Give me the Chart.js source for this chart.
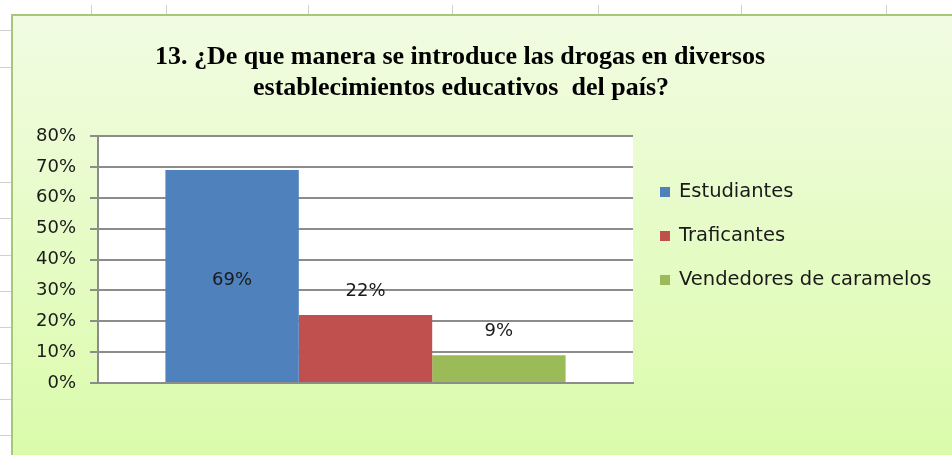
<!DOCTYPE html>
<html>
<head>
<meta charset="utf-8">
<script src="https://cdn.jsdelivr.net/npm/chart.js@4/dist/chart.umd.min.js"></script>
<style>
  html, body { margin: 0; padding: 0; background: #fff; }
  #wrap { position: relative; width: 952px; height: 455px; }
</style>
</head>
<body>
<div id="wrap"><canvas id="chart" width="952" height="455"></canvas></div>
<script>
// data
const categories = [""];
const seriesNames = ["Estudiantes", "Traficantes", "Vendedores de caramelos"];
const estudiantes = [69];
const traficantes = [22];
const vendedores = [9];
const yTicks = [0, 10, 20, 30, 40, 50, 60, 70, 80];
const titleLines = [
  "13. ¿De que manera se introduce las drogas en diversos",
  "establecimientos educativos  del país?"
];

const colors = ["#4f81bd", "#c0504d", "#9bbb59"];

// spreadsheet background + green chart box
const backdrop = {
  id: "backdrop",
  beforeDraw(chart) {
    const ctx = chart.ctx;
    ctx.save();
    ctx.fillStyle = "#fff";
    ctx.fillRect(0, 0, 952, 455);
    ctx.strokeStyle = "#d0d0d0";
    ctx.lineWidth = 1;
    [91, 166, 308, 452, 598, 741, 886].forEach(x => {
      ctx.beginPath(); ctx.moveTo(x + 0.5, 5); ctx.lineTo(x + 0.5, 14); ctx.stroke();
    });
    [30, 67, 182, 218, 255, 291, 327, 363, 399, 435].forEach(y => {
      ctx.beginPath(); ctx.moveTo(0, y + 0.5); ctx.lineTo(11, y + 0.5); ctx.stroke();
    });
    const g = ctx.createLinearGradient(0, 14, 0, 455);
    g.addColorStop(0, "#f1fce2");
    g.addColorStop(1, "#dbfbab");
    ctx.fillStyle = g;
    ctx.fillRect(11, 14, 952, 455);
    ctx.strokeStyle = "#a6c77a";
    ctx.lineWidth = 2;
    ctx.beginPath();
    ctx.moveTo(12, 460); ctx.lineTo(12, 15); ctx.lineTo(960, 15);
    ctx.stroke();
    // plot area fill
    const a = chart.chartArea;
    ctx.fillStyle = "#fff";
    ctx.fillRect(a.left, a.top, a.right - a.left, a.bottom - a.top);
    ctx.restore();
  }
};

// title, legend, value labels
const extras = {
  id: "extras",
  afterDraw(chart) {
    const ctx = chart.ctx;
    ctx.save();
    ctx.fillStyle = "#000";
    ctx.textAlign = "center";
    ctx.textBaseline = "middle";
    ctx.font = "bold 26px 'Liberation Serif'";
    ctx.fillText(titleLines[0], 460, 57);
    ctx.fillText(titleLines[1], 461, 88);

    ctx.font = "18px 'DejaVu Sans'";
    ctx.fillStyle = "#1a1a1a";
    chart.data.datasets.forEach((ds, i) => {
      const bar = chart.getDatasetMeta(i).data[0];
      const h = bar.base - bar.y;
      const y = h > 100 ? (bar.y + bar.base) / 2 + 4 : bar.y - 24;
      ctx.fillText(ds.data[0] + "%", bar.x, y);
    });

    ctx.textAlign = "left";
    ctx.font = "19.5px 'DejaVu Sans'";
    chart.data.datasets.forEach((ds, i) => {
      const y = 192 + i * 44;
      ctx.fillStyle = ds.backgroundColor;
      ctx.fillRect(660, y - 5, 10, 10);
      ctx.fillStyle = "#1a1a1a";
      ctx.fillText(ds.label, 679, y);
    });
    ctx.restore();
  }
};

new Chart(document.getElementById("chart"), {
  type: "bar",
  data: {
    labels: categories,
    datasets: [
      { label: seriesNames[0], data: estudiantes, backgroundColor: colors[0] },
      { label: seriesNames[1], data: traficantes, backgroundColor: colors[1] },
      { label: seriesNames[2], data: vendedores, backgroundColor: colors[2] }
    ]
  },
  options: {
    responsive: false,
    animation: false,
    layout: { padding: { left: 0, right: 319, top: 136, bottom: 72 } },
    datasets: { bar: { barPercentage: 1, categoryPercentage: 0.748 } },
    plugins: { legend: { display: false }, title: { display: false }, tooltip: { enabled: false } },
    scales: {
      x: {
        ticks: { display: false },
        grid: { display: false },
        border: { color: "#8c8c8c", width: 2 },
        afterFit: s => { s.height = 0; }
      },
      y: {
        min: 0,
        max: 80,
        afterFit: s => { s.width = 98; },
        afterBuildTicks: s => { s.ticks = yTicks.map(v => ({ value: v })); },
        ticks: {
          padding: 14,
          color: "#1a1a1a",
          font: { family: "DejaVu Sans", size: 18 },
          callback: v => v + "%"
        },
        grid: { color: "#8c8c8c", lineWidth: 2, tickLength: 8, drawOnChartArea: true },
        border: { color: "#8c8c8c", width: 2 }
      }
    }
  },
  plugins: [backdrop, extras]
});
</script>
</body>
</html>
